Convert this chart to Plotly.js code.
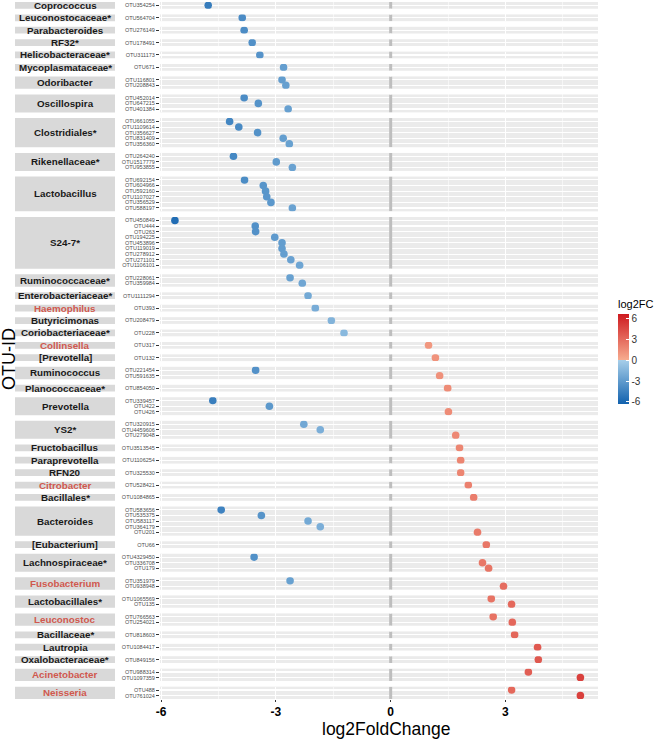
<!DOCTYPE html>
<html><head><meta charset="utf-8">
<script src="https://cdn.plot.ly/plotly-3.0.1.min.js"></script>
<style>html,body{margin:0;padding:0;background:#fff}#chart{width:656px;height:739px}</style>
</head><body><div id="chart"></div>
<script>
// ---- data ----
const genusOrder = ['Coprococcus','Leuconostocaceae*','Parabacteroides','RF32*','Helicobacteraceae*','Mycoplasmataceae*','Odoribacter','Oscillospira','Clostridiales*','Rikenellaceae*','Lactobacillus','S24-7*','Ruminococcaceae*','Enterobacteriaceae*','Haemophilus','Butyricimonas','Coriobacteriaceae*','Collinsella','[Prevotella]','Ruminococcus','Planococcaceae*','Prevotella','YS2*','Fructobacillus','Paraprevotella','RFN20','Citrobacter','Bacillales*','Bacteroides','[Eubacterium]','Lachnospiraceae*','Fusobacterium','Lactobacillales*','Leuconostoc','Bacillaceae*','Lautropia','Oxalobacteraceae*','Acinetobacter','Neisseria'];
const highlightedGenera = ['Haemophilus','Collinsella','Citrobacter','Fusobacterium','Leuconostoc','Acinetobacter','Neisseria'];
const otuGenus = ['Coprococcus','Leuconostocaceae*','Parabacteroides','RF32*','Helicobacteraceae*','Mycoplasmataceae*',
 'Odoribacter','Odoribacter','Oscillospira','Oscillospira','Oscillospira',
 'Clostridiales*','Clostridiales*','Clostridiales*','Clostridiales*','Clostridiales*',
 'Rikenellaceae*','Rikenellaceae*','Rikenellaceae*',
 'Lactobacillus','Lactobacillus','Lactobacillus','Lactobacillus','Lactobacillus','Lactobacillus',
 'S24-7*','S24-7*','S24-7*','S24-7*','S24-7*','S24-7*','S24-7*','S24-7*','S24-7*',
 'Ruminococcaceae*','Ruminococcaceae*','Enterobacteriaceae*','Haemophilus','Butyricimonas','Coriobacteriaceae*','Collinsella','[Prevotella]',
 'Ruminococcus','Ruminococcus','Planococcaceae*','Prevotella','Prevotella','Prevotella','YS2*','YS2*','YS2*',
 'Fructobacillus','Paraprevotella','RFN20','Citrobacter','Bacillales*',
 'Bacteroides','Bacteroides','Bacteroides','Bacteroides','Bacteroides','[Eubacterium]',
 'Lachnospiraceae*','Lachnospiraceae*','Lachnospiraceae*','Fusobacterium','Fusobacterium',
 'Lactobacillales*','Lactobacillales*','Leuconostoc','Leuconostoc','Bacillaceae*','Lautropia','Oxalobacteraceae*',
 'Acinetobacter','Acinetobacter','Neisseria','Neisseria'];
const otuIds = ['OTU354254','OTU564704','OTU276149','OTU178491','OTU311173','OTU671',
 'OTU116801','OTU208843','OTU452014','OTU647215','OTU401384',
 'OTU661055','OTU1109614','OTU356627','OTU831409','OTU356360',
 'OTU264240','OTU1517779','OTU953855',
 'OTU692154','OTU604966','OTU592160','OTU1107027','OTU356529','OTU588197',
 'OTU450849','OTU444','OTU263','OTU194225','OTU453896','OTU119019','OTU278912','OTU271101','OTU1106101',
 'OTU228061','OTU359984','OTU1111294','OTU393','OTU208479','OTU228','OTU317','OTU132',
 'OTU221454','OTU591635','OTU854050','OTU339457','OTU422','OTU426','OTU320915','OTU4459606','OTU279048',
 'OTU3513545','OTU1106254','OTU325530','OTU528421','OTU1084865',
 'OTU583656','OTU535375','OTU583117','OTU364179','OTU201','OTU66',
 'OTU4329450','OTU336708','OTU179','OTU351979','OTU938948',
 'OTU1065569','OTU135','OTU766563','OTU254021','OTU818603','OTU1084417','OTU849156',
 'OTU988314','OTU1097359','OTU488','OTU761024'];
const log2FC = [-4.77,-3.88,-3.83,-3.62,-3.42,-2.80,
 -2.84,-2.74,-3.83,-3.46,-2.68,
 -4.21,-3.97,-3.48,-2.81,-2.65,
 -4.11,-2.99,-2.57,
 -3.82,-3.33,-3.27,-3.24,-3.13,-2.57,
 -5.64,-3.54,-3.53,-3.03,-2.84,-2.84,-2.79,-2.61,-2.38,
 -2.63,-2.31,-2.16,-1.97,-1.55,-1.22,0.99,1.17,
 -3.53,1.28,1.49,-4.65,-3.17,1.51,-2.27,-1.84,1.70,
 1.80,1.83,1.83,2.03,2.17,
 -4.43,-3.38,-2.16,-1.84,2.27,2.50,
 -3.57,2.40,2.56,-2.63,2.95,
 2.63,3.16,2.68,3.18,3.24,3.84,3.86,
 3.60,4.96,3.16,4.96];
const xTicks = [-6,-3,0,3];
const xMinorTicks = [-4.5,-1.5,1.5,4.5];
const legendTicks = [-6,-3,0,3,6];

// ---- geometry ----
const W = 656, H = 739, ML = 160, MR = 58, MT = 2, MB = 40;
const plotW = W - ML - MR, plotH = H - MT - MB;
const px2x = p => (p - ML) / plotW;
const py2y = p => 1 - (p - MT) / plotH;
const FONT = 'Liberation Sans, Arial, Helvetica, sans-serif';
const PAD = 0.2, GAP = 1.01;

const groups = genusOrder.map(g => {
  const idx = [];
  otuGenus.forEach((gg, i) => { if (gg === g) idx.push(i); });
  return {name: g, ids: idx.map(i => otuIds[i]), vals: idx.map(i => log2FC[i])};
});
const totalUnits = groups.reduce((s, g) => s + g.ids.length + PAD, 0) + GAP * (groups.length - 1);

const traces = [], shapes = [], annotations = [];
const layout = {
  width: W, height: H,
  margin: {l: ML, r: MR, t: MT, b: MB, pad: 0},
  paper_bgcolor: '#ffffff', plot_bgcolor: '#EBEBEB',
  font: {family: FONT, color: '#000'},
  showlegend: false,
  coloraxis: {
    cmin: -6.3, cmax: 6.7,
    colorscale: [[0, '#1262AE'], [0.4846, '#A6CEE9'], [0.4846, '#F7AD90'], [1, '#CE1A20']],
    colorbar: {
      thickness: 11, thicknessmode: 'pixels', len: 90, lenmode: 'pixels',
      x: px2x(618), xanchor: 'left', y: py2y(359), yanchor: 'middle',
      xpad: 0, ypad: 0, outlinewidth: 0,
      tickmode: 'array', tickvals: legendTicks, ticktext: legendTicks.map(String),
      ticks: 'inside', ticklen: 3, tickcolor: '#ffffff',
      tickfont: {size: 10, color: '#333', family: FONT}
    }
  },
  xaxis: {
    range: [-6.03, 5.42], anchor: 'y' + groups.length, automargin: false,
    tickmode: 'array', tickvals: xTicks, ticktext: xTicks.map(String),
    ticks: 'outside', ticklen: 2, tickcolor: '#333',
    tickfont: {size: 12, color: '#000', weight: 'bold', family: FONT},
    showgrid: true, gridcolor: '#ffffff', gridwidth: 1.1, zeroline: false, showline: false,
    minor: {tickmode: 'array', tickvals: xMinorTicks, showgrid: true, gridcolor: '#ffffff', gridwidth: 0.55, ticks: ''},
    fixedrange: true
  }
};

let cursor = 1;
groups.forEach((g, k) => {
  const n = g.ids.length;
  const h = (n + PAD) / totalUnits;
  const top = cursor, bot = Math.max(0, cursor - h);
  cursor = bot - GAP / totalUnits;
  const axId = k === 0 ? 'y' : 'y' + (k + 1);
  const axKey = k === 0 ? 'yaxis' : 'yaxis' + (k + 1);
  layout[axKey] = {
    domain: [bot, Math.min(1, top)], anchor: 'x', type: 'category',
    categoryorder: 'array', categoryarray: g.ids,
    range: [n - 0.4, -0.6], automargin: false, fixedrange: true,
    tickmode: 'array', tickvals: g.ids, ticktext: g.ids,
    ticks: 'outside', ticklen: 3, tickcolor: '#333',
    tickfont: {size: 5.5, color: '#4D4D4D', family: FONT},
    showgrid: true, gridcolor: '#ffffff', gridwidth: 1.1, zeroline: false, showline: false
  };
  traces.push({
    type: 'scatter', mode: 'markers', xaxis: 'x', yaxis: axId,
    x: g.vals, y: g.ids,
    marker: {size: 7.6, color: g.vals, coloraxis: 'coloraxis', line: {width: 0}},
    hoverinfo: 'x+y'
  });
  // zero reference line in each panel
  shapes.push({type: 'line', xref: 'x', yref: axId, x0: 0, x1: 0, y0: -0.6, y1: n - 0.4,
    line: {color: '#BEBEBE', width: 3}, layer: 'between'});
  // facet strip
  shapes.push({type: 'rect', xref: 'paper', yref: axId + ' domain', x0: px2x(15), x1: px2x(115), y0: 0, y1: 1,
    fillcolor: '#D9D9D9', line: {width: 0}, layer: 'below'});
  annotations.push({xref: 'paper', yref: axId + ' domain', x: px2x(65), y: 0.5, xanchor: 'center', yanchor: 'middle',
    text: g.name, showarrow: false,
    font: {size: 9.8, weight: 'bold', family: FONT, color: highlightedGenera.includes(g.name) ? '#D0584E' : '#1A1A1A'}});
});
annotations.push({xref: 'paper', yref: 'paper', x: px2x(9), y: py2y(359), xanchor: 'center', yanchor: 'middle',
  text: 'OTU-ID', textangle: -90, showarrow: false, font: {size: 18, color: '#000', family: FONT}});
annotations.push({xref: 'paper', yref: 'paper', x: px2x(386), y: py2y(729), xanchor: 'center', yanchor: 'middle',
  text: 'log2FoldChange', showarrow: false, font: {size: 17.5, color: '#000', family: FONT}});
annotations.push({xref: 'paper', yref: 'paper', x: px2x(616), y: py2y(304), xanchor: 'left', yanchor: 'middle',
  text: 'log2FC', showarrow: false, font: {size: 11, color: '#000', family: FONT}});
layout.shapes = shapes;
layout.annotations = annotations;

Plotly.newPlot('chart', traces, layout, {displayModeBar: false, staticPlot: true});
</script>
</body></html>
